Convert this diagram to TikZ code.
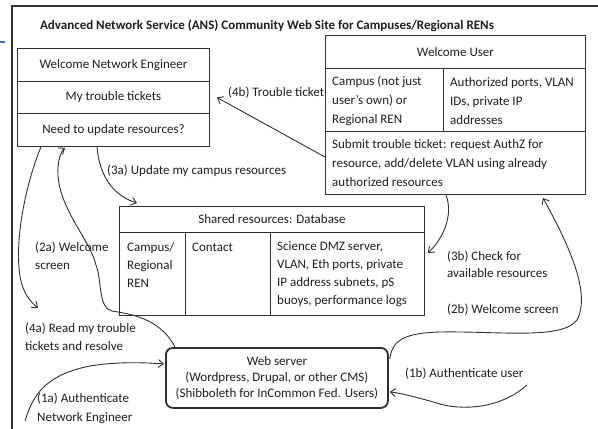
\documentclass[tikz,border=0pt]{standalone}
\usepackage{fontspec}
\setmainfont{Carlito}
\usetikzlibrary{arrows.meta,calc}
\definecolor{ink}{HTML}{1E1E1E}
\definecolor{edge}{HTML}{303030}
\definecolor{accent}{HTML}{4472C4}
\begin{document}
\begin{tikzpicture}[x=1pt,y=-1pt,
  font=\fontsize{13}{18.5}\selectfont, text=ink,
  cell/.style={draw=edge, line width=0.9pt, anchor=north west, inner sep=0pt},
  lbl/.style={inner sep=0pt, anchor=west, align=left},
  arr/.style={draw=edge, line width=0.9pt, -{Straight Barb[length=5pt,width=8pt]}}]
\useasboundingbox (0,0) rectangle (598,429);
% outer frame
\draw[edge, line width=2pt] (12,429) -- (12,6) -- (598,6);
\draw[accent, line width=1.2pt] (0,42) -- (5,42);
\node[inner sep=0pt, font=\fontsize{13}{16}\selectfont\bfseries] (title) at (267,26)
  {Advanced Network Service (ANS) Community Web Site for Campuses/Regional RENs};
% network engineer box
\node[cell, minimum width=192pt, minimum height=33pt] (ne1) at (17,48) {Welcome Network Engineer};
\node[cell, minimum width=192pt, minimum height=32pt] (ne2) at (17,81) {My trouble tickets};
\node[cell, minimum width=192pt, minimum height=33pt] (ne3) at (17,113) {Need to update resources?};
% user box
\node[cell, minimum width=260pt, minimum height=33pt] (u1) at (325,35) {Welcome User};
\node[cell, minimum width=118pt, minimum height=63pt] (u2a) at (325,68) {};
\node[cell, minimum width=142pt, minimum height=63pt] (u2b) at (443,68) {};
\node[cell, minimum width=260pt, minimum height=63pt] (u3) at (325,131) {};
\node[lbl, font=\fontsize{13}{19}\selectfont] (tu2a) at (332,101) {Campus (not just\\user's own) or\\Regional REN};
\node[lbl, font=\fontsize{13}{19}\selectfont] (tu2b) at (450,101) {Authorized ports, VLAN\\IDs, private IP\\addresses};
\node[lbl, font=\fontsize{13}{19}\selectfont] (tu3) at (332,163) {Submit trouble ticket: request AuthZ for\\resource, add/delete VLAN using already\\authorized resources};
% shared resources
\node[cell, minimum width=305pt, minimum height=26pt] (s1) at (119,206) {Shared resources: Database};
\node[cell, minimum width=66pt, minimum height=83pt] (s2a) at (119,232) {};
\node[cell, minimum width=85pt, minimum height=83pt] (s2b) at (185,232) {};
\node[cell, minimum width=154pt, minimum height=83pt] (s2c) at (270,232) {};
\node[lbl, font=\fontsize{13}{18}\selectfont] (ts2a) at (127,265) {Campus/\\Regional\\REN};
\node[lbl] (ts2b) at (192,247) {Contact};
\node[lbl, font=\fontsize{13}{18}\selectfont] (ts2c) at (277,274) {Science DMZ server,\\VLAN, Eth ports, private\\IP address subnets, pS\\buoys, performance logs};
% web server
\node[draw=edge, line width=1.8pt, rounded corners=7pt, anchor=north west,
  minimum width=222pt, minimum height=60pt, inner sep=0pt, align=center,
  font=\fontsize{13}{16}\selectfont] (ws) at (165,347)
  {Web server\\(Wordpress, Drupal, or other CMS)\\(Shibboleth for InCommon Fed. Users)};
% labels
\node[lbl] (l4b) at (228,93) {(4b) Trouble ticket};
\node[lbl] (l3a) at (107,171) {(3a) Update my campus resources};
\node[lbl, font=\fontsize{13}{18}\selectfont] (l2a) at (35,256) {(2a) Welcome\\screen};
\node[lbl, font=\fontsize{13}{17}\selectfont] (l3b) at (447,264.5) {(3b) Check for\\available resources};
\node[lbl] (l2b) at (447,310) {(2b) Welcome screen};
\node[lbl] (l1b) at (405,374) {(1b) Authenticate user};
\node[lbl, font=\fontsize{13}{18}\selectfont] (l4a) at (25,337) {(4a) Read my trouble\\tickets and resolve};
\node[lbl, font=\fontsize{13}{19}\selectfont] (l1a) at (37,408) {(1a) Authenticate\\Network Engineer};
% free ends
\coordinate (eng) at (25,421);
\coordinate (usr) at (527,385);
\coordinate (r4a) at (38,308);
% connectors
\draw[arr] ($(u3.north west)+(0,26)$) -- ($(ne2.east)+(7,0)$);
\draw[arr] ($(ne3.south west)+(80,0)$) .. controls (100,182) and (118,197) .. ($(s1.north west)+(18,-3)$);
\draw[arr] ($(u3.south west)+(121,0)$) .. controls (454,216) and (442,240) .. ($(s2c.east)+(3,-21)$);
\draw[arr] ($(ws.east)+(1,-19)$) .. controls (392,340) and (405,333) .. (440,332)
  .. controls (500,331) and (562,340) .. (577,320)
  .. controls (592,292) and (566,240) .. ($(u3.south west)+(218,3)$);
\draw[arr] (usr) .. controls (505,405) and (470,412) .. (440,404)
  .. controls (420,398) and (400,393) .. ($(ws.east)+(1,14)$);
\draw[arr] (eng) .. controls (33,395) and (45,375) .. (90,366)
  .. controls (120,361) and (150,363) .. ($(ws.west)+(-1,-14)$);
\draw[arr] ($(ne3.south west)+(24,0)$) .. controls (25,185) and (12,250) .. (22,285)
  .. controls (26,297) and (32,303) .. (r4a);
\draw[arr] ($(ws.north west)+(10,0)$) .. controls (160,318) and (130,314) .. (112,311)
  .. controls (98,308) and (102,280) .. (96,265)
  .. controls (90,240) and (60,210) .. (58,175)
  .. controls (57,160) and (62,150) .. ($(ne3.south west)+(48,1)$);
\end{tikzpicture}
\end{document}
